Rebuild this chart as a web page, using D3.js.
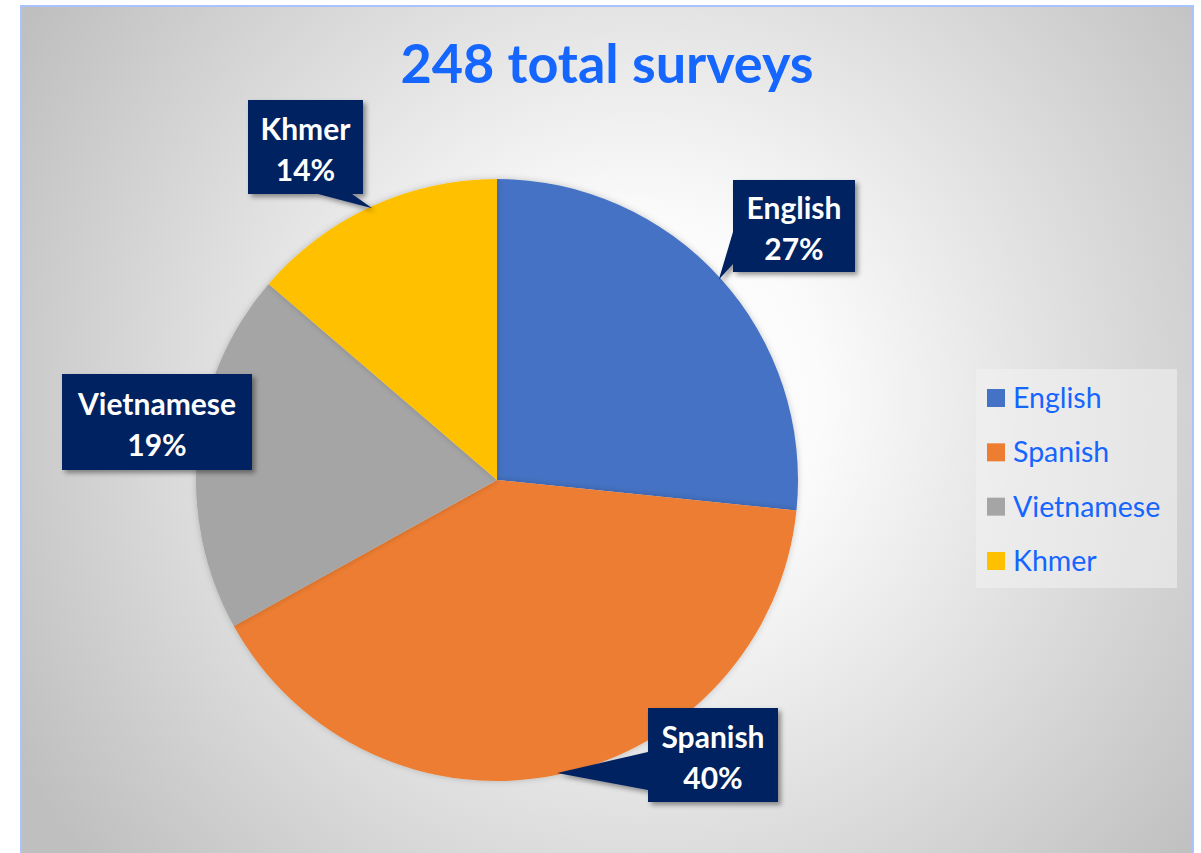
<!DOCTYPE html>
<html>
<head>
<meta charset="utf-8">
<script src="https://cdn.jsdelivr.net/npm/d3@7/dist/d3.min.js"></script>
<style>
  html, body { margin: 0; padding: 0; background: #ffffff; }
  svg { display: block; }
</style>
</head>
<body>
<script>
// ---- data ----
const categories = ["English", "Spanish", "Vietnamese", "Khmer"];
const counts = [66, 100, 48, 34];
const percentLabels = ["27%", "40%", "19%", "14%"];
const colors = ["#4472C4", "#ED7D31", "#A5A5A5", "#FFC000"];
const titleText = "248 total surveys";

// ---- layout ----
const W = 1201, H = 853;
const frame = { x: 21, y: 6, w: 1172, h: 860 };
const cx = 497, cy = 480, R = 301;
// label boxes: x, y, w, h, and pointer base (two points relative to box)
const labelBoxes = [
  { x: 733, y: 180, w: 122, h: 92, base: [[0, 52], [0, 84]] },
  { x: 648, y: 708, w: 130, h: 94, base: [[0, 44], [0, 82]] },
  { x: 62,  y: 374, w: 190, h: 96, base: null },
  { x: 248, y: 100, w: 115, h: 94, base: [[70, 94], [104, 94]] }
];

const svg = d3.select("body").append("svg").attr("width", W).attr("height", H);
const defs = svg.append("defs");

const grad = defs.append("radialGradient").attr("id", "bg")
  .attr("gradientUnits", "userSpaceOnUse")
  .attr("cx", 640).attr("cy", 400).attr("r", 720);
grad.append("stop").attr("offset", "0%").attr("stop-color", "#ffffff");
grad.append("stop").attr("offset", "25%").attr("stop-color", "#fbfbfb");
grad.append("stop").attr("offset", "100%").attr("stop-color", "#bfbfbf");

const sh = defs.append("filter").attr("id", "shadow")
  .attr("x", "-20%").attr("y", "-20%").attr("width", "150%").attr("height", "150%");
sh.append("feDropShadow").attr("dx", 3).attr("dy", 3).attr("stdDeviation", 2.5)
  .attr("flood-color", "#000").attr("flood-opacity", 0.4);

const psh = defs.append("filter").attr("id", "pieshadow")
  .attr("x", "-10%").attr("y", "-10%").attr("width", "120%").attr("height", "120%");
psh.append("feDropShadow").attr("dx", 0).attr("dy", 0).attr("stdDeviation", 3)
  .attr("flood-color", "#000").attr("flood-opacity", 0.2);

// background & border
svg.append("rect")
  .attr("x", frame.x).attr("y", frame.y).attr("width", frame.w).attr("height", frame.h)
  .attr("fill", "url(#bg)").attr("stroke", "#a8c4ff").attr("stroke-width", 2);

// title
svg.append("text")
  .attr("x", 607).attr("y", 83)
  .attr("text-anchor", "middle")
  .attr("font-family", "Lato, 'Open Sans', sans-serif")
  .attr("font-weight", "bold")
  .attr("font-size", 54)
  .attr("fill", "#1565FF")
  .text(titleText);

// pie
const pie = d3.pie().sort(null).value(d => d.value);
const data = categories.map((c, i) => ({ name: c, value: counts[i], color: colors[i], pct: percentLabels[i], box: labelBoxes[i] }));
const arcs = pie(data);
const arc = d3.arc().innerRadius(0).outerRadius(R);

const g = svg.append("g").attr("transform", `translate(${cx},${cy})`);
g.selectAll("path.slice").data(arcs).join("path")
  .attr("class", "slice")
  .attr("d", arc)
  .attr("fill", d => d.data.color)
  .attr("filter", "url(#pieshadow)");

// labels
const lab = svg.append("g");
arcs.forEach(a => {
  const b = a.data.box;
  const grp = lab.append("g").attr("filter", "url(#shadow)");
  if (b.base) {
    const mid = (a.startAngle + a.endAngle) / 2;
    const tip = [cx + (R - 2) * Math.sin(mid), cy - (R - 2) * Math.cos(mid)];
    const pts = [[b.x + b.base[0][0], b.y + b.base[0][1]], tip, [b.x + b.base[1][0], b.y + b.base[1][1]]];
    grp.append("path")
      .attr("d", d3.line()(pts) + "Z")
      .attr("fill", "#002060");
  }
  grp.append("rect")
    .attr("x", b.x).attr("y", b.y).attr("width", b.w).attr("height", b.h)
    .attr("fill", "#002060");
  const t = lab.append("text")
    .attr("text-anchor", "middle")
    .attr("font-family", "Lato, 'Open Sans', sans-serif")
    .attr("font-weight", "bold")
    .attr("font-size", 30)
    .attr("fill", "#ffffff");
  t.append("tspan").attr("x", b.x + b.w / 2).attr("y", b.y + b.h / 2 - 7).text(a.data.name);
  t.append("tspan").attr("x", b.x + b.w / 2).attr("y", b.y + b.h / 2 + 34).text(a.data.pct);
});

// legend
const legend = svg.append("g");
legend.append("rect")
  .attr("x", 976).attr("y", 369).attr("width", 201).attr("height", 219)
  .attr("fill", "#f2f2f2").attr("fill-opacity", 0.55);
const ly = d3.scalePoint().domain(categories).range([398, 561]);
const items = legend.selectAll("g.item").data(data).join("g")
  .attr("class", "item")
  .attr("transform", d => `translate(987,${ly(d.name)})`);
items.append("rect").attr("x", 0).attr("y", -9).attr("width", 18).attr("height", 18)
  .attr("fill", d => d.color);
items.append("text").attr("x", 26).attr("y", 10)
  .attr("font-family", "Lato, 'Open Sans', sans-serif")
  .attr("font-size", 28.5)
  .attr("fill", "#1565FF")
  .text(d => d.name);
</script>
</body>
</html>
